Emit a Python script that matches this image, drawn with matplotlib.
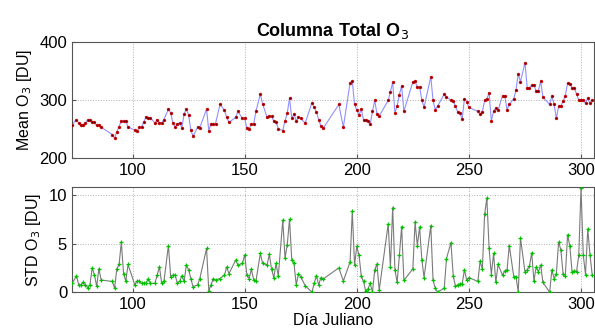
import numpy as np
import matplotlib
matplotlib.use('Agg')
import matplotlib.pyplot as plt

# Datos: día juliano, media y desviación estándar de O3
dias = [73, 75, 76, 77, 78, 79, 80, 81, 82, 83, 84, 85, 86,
        91, 92, 93, 94, 95, 96, 97, 98, 101, 102, 103, 104, 105, 106, 107, 108,
        110, 111, 112, 113, 114, 116, 117, 118, 119, 120, 121, 122, 123, 124, 125,
        126, 127, 129, 130, 133, 134, 135, 136, 137, 139, 141, 142, 143, 146, 147,
        149, 150, 151, 152, 153, 154, 155, 157, 158, 160, 161, 162, 163, 164, 165,
        167, 168, 169, 170, 171, 172, 173, 174, 175, 177, 180, 181, 182, 183, 184,
        185, 192, 194, 197, 198, 199, 200, 201, 202, 203, 204, 205, 206, 207, 208,
        209, 210, 214, 215, 216, 217, 218, 219, 220, 221, 225, 226, 227, 228, 229,
        230, 233, 234, 235, 236, 239, 240, 242, 243, 244, 245, 246, 247, 248, 249,
        250, 254, 255, 256, 257, 258, 259, 260, 261, 262, 263, 265, 266, 267, 268,
        270, 271, 272, 273, 275, 276, 277, 278, 279, 280, 281, 282, 283, 286, 287,
        288, 289, 290, 291, 292, 293, 294, 295, 296, 297, 298, 299, 300, 301, 302,
        303, 304, 305]

media = [257, 266, 260, 257, 257, 260, 265, 265, 261, 261, 256, 256, 253,
         240, 234, 245, 254, 264, 263, 264, 253, 248, 246, 253, 253, 262, 270, 269, 269,
         260, 266, 260, 260, 266, 284, 278, 260, 253, 259, 260, 252, 276, 284, 274,
         248, 237, 253, 252, 284, 247, 259, 259, 259, 292, 282, 270, 261, 270, 280,
         268, 268, 251, 250, 259, 258, 280, 310, 293, 270, 272, 272, 263, 262, 250,
         247, 264, 277, 303, 268, 276, 263, 271, 268, 260, 295, 287, 279, 266, 255,
         251, 292, 253, 329, 332, 292, 283, 274, 284, 265, 265, 263, 258, 280, 299,
         276, 272, 299, 314, 330, 278, 289, 309, 324, 280, 331, 332, 322, 322, 300,
         287, 340, 299, 283, 289, 310, 305, 299, 298, 289, 279, 277, 267, 302, 297,
         287, 280, 275, 279, 299, 302, 312, 264, 280, 286, 282, 307, 307, 283, 292,
         302, 317, 345, 331, 364, 321, 321, 325, 325, 315, 316, 332, 305, 292, 307,
         292, 268, 289, 289, 298, 307, 329, 327, 321, 321, 310, 299, 300, 300, 294,
         303, 294, 299]

desv = [0.9, 1.66, 0.75, 0.75, 1.0, 0.75, 0.47, 0.75, 2.5, 1.8, 0.6, 2.4, 1.25,
        1.1, 0.4, 2.4, 2.85, 5.15, 1.9, 1.15, 2.85, 0.75, 1.15, 1.15, 0.9, 0.95, 0.9, 1.4, 0.9,
        0.9, 1.8, 2.6, 0.9, 1.1, 4.8, 1.6, 1.75, 1.75, 0.9, 1.1, 1.7, 1.1, 2.8, 2.3,
        1.4, 0.55, 0.75, 1.4, 4.5, 0.15, 0.75, 1.4, 1.25, 1.4, 1.75, 2.6, 1.9, 3.3, 2.8,
        2.95, 3.85, 1.75, 1.4, 2.35, 1.3, 1.1, 4.0, 2.95, 2.8, 3.9, 2.35, 1.5, 2.95, 1.66,
        7.4, 3.5, 4.9, 7.5, 3.35, 2.95, 0.75, 1.9, 1.6, 0.65, 0.0, 0.9, 1.7, 0.75, 1.5,
        1.35, 2.5, 1.15, 3.1, 8.35, 2.8, 4.7, 3.8, 1.66, 1.1, 0.07, 0.35, 0.9, 0.0, 2.3,
        2.9, 0.2, 7.0, 2.55, 8.7, 2.3, 1.0, 3.8, 6.75, 1.2, 2.4, 7.2, 4.8, 6.7, 3.35,
        1.5, 6.85, 1.25, 0.4, 0.0, 0.4, 3.45, 5.1, 1.7, 0.6, 0.75, 0.85, 0.85, 2.3, 1.25,
        1.5, 1.1, 3.2, 2.35, 8.0, 9.7, 4.5, 1.8, 4.0, 1.0, 2.85, 1.75, 2.2, 2.3, 4.8,
        1.6, 1.6, 0.0, 5.55, 2.1, 2.3, 2.7, 4.05, 1.15, 2.6, 2.1, 2.8, 1.0, 0.0, 2.3,
        1.4, 1.9, 5.15, 4.35, 1.9, 1.7, 5.9, 4.75, 2.1, 2.2, 2.1, 3.8, 10.75, 3.8, 1.8,
        6.5, 3.85, 1.75]

plt.rcParams['font.family'] = ['Liberation Sans', 'DejaVu Sans']

fig = plt.figure(figsize=(5.95, 3.29), dpi=100)
ax1 = fig.add_axes([0.121, 0.520, 0.877, 0.353])
ax2 = fig.add_axes([0.121, 0.112, 0.877, 0.319])

# Panel superior: media
ax1.plot(dias, media, '-', color='#9090ff', lw=0.8, zorder=2)
ax1.plot(dias, media, 'o', color='#e00000', ms=2.1, mec='#c00000', mew=0.3, zorder=3)
ax1.plot(dias, media, '+', color='#600000', ms=1.6, mew=0.4, zorder=4)
ax1.set_ylim(200, 400)
ax1.set_yticks([200, 300, 400])
ax1.set_ylabel('Mean O$_3$ [DU]', fontsize=11.5)
ax1.set_title('Columna Total O$_3$', fontsize=13, fontweight='bold', pad=4)

# Panel inferior: desviación estándar
ax2.plot(dias, desv, '-', color='#7a7a7a', lw=0.8, zorder=2)
ax2.plot(dias, desv, '+', color='#00c000', ms=2.6, mew=0.9, zorder=3)
ax2.set_ylim(0, 10.8)
ax2.set_yticks([0, 5, 10])
ax2.set_ylabel('STD O$_3$ [DU]', fontsize=11.5)
ax2.set_xlabel('Día Juliano', fontsize=11.5, labelpad=1)

for ax in (ax1, ax2):
    ax.set_xlim(73, 305.7)
    ax.set_xticks([100, 150, 200, 250, 300])
    ax.grid(True, linestyle=':', color='#b0b0b0', lw=0.7)
    ax.tick_params(direction='in', labelsize=12, length=3, color='#555555')
    for s in ax.spines.values():
        s.set_color('#555555')
        s.set_linewidth(0.8)

fig.savefig('out.png', dpi=100)
